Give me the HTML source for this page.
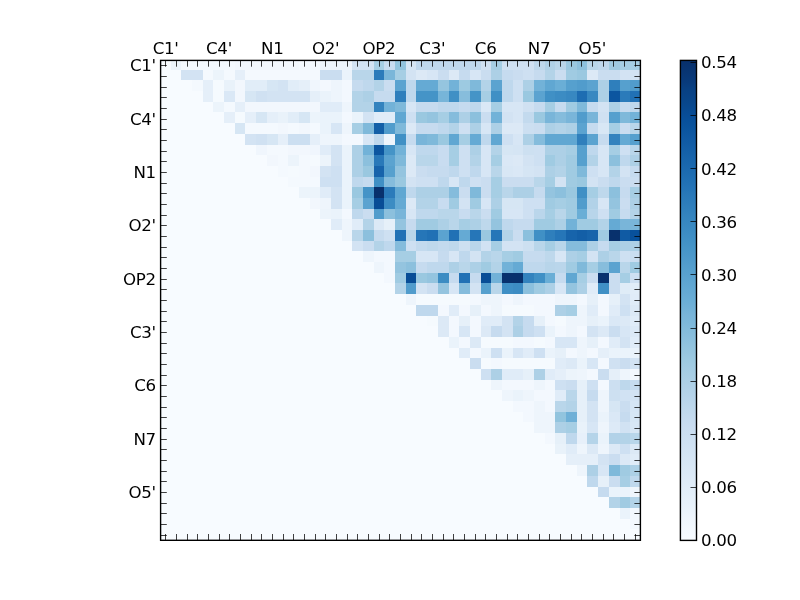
<!DOCTYPE html><html><head><meta charset="utf-8"><title>heatmap</title><style>html,body{margin:0;padding:0;background:#fff;width:800px;height:600px;overflow:hidden}svg{display:block}text{font-family:"DejaVu Sans","Liberation Sans",sans-serif;font-size:16.67px;fill:#000}</style></head><body>
<svg width="800" height="600" viewBox="0 0 800 600" style="will-change:transform">
<rect x="0" y="0" width="800" height="600" fill="#fff"/>
<rect x="160" y="60" width="480" height="480" fill="#f7fbff"/>
<g shape-rendering="crispEdges">
<rect x="171" y="60" width="10" height="10" fill="#ecf4fb"/>
<rect x="181" y="60" width="54" height="10" fill="#f4f9fe"/>
<rect x="235" y="60" width="64" height="10" fill="#f2f7fd"/>
<rect x="299" y="60" width="21" height="10" fill="#f4f9fe"/>
<rect x="320" y="60" width="32" height="10" fill="#eef5fc"/>
<rect x="352" y="60" width="22" height="10" fill="#d3e3f3"/>
<rect x="374" y="60" width="10" height="10" fill="#a6cee4"/>
<rect x="384" y="60" width="11" height="10" fill="#c8dcf0"/>
<rect x="395" y="60" width="11" height="10" fill="#92c4de"/>
<rect x="406" y="60" width="10" height="10" fill="#d6e6f4"/>
<rect x="416" y="60" width="65" height="10" fill="#bfd8ed"/>
<rect x="481" y="60" width="10" height="10" fill="#d0e1f2"/>
<rect x="491" y="60" width="11" height="10" fill="#a6cee4"/>
<rect x="502" y="60" width="32" height="10" fill="#d0e1f2"/>
<rect x="534" y="60" width="11" height="10" fill="#bed8ec"/>
<rect x="545" y="60" width="10" height="10" fill="#afd1e7"/>
<rect x="555" y="60" width="11" height="10" fill="#b9d6ea"/>
<rect x="566" y="60" width="11" height="10" fill="#9ac8e0"/>
<rect x="577" y="60" width="10" height="10" fill="#8cc0dd"/>
<rect x="587" y="60" width="11" height="10" fill="#b9d6ea"/>
<rect x="598" y="60" width="11" height="10" fill="#bfd8ed"/>
<rect x="609" y="60" width="11" height="10" fill="#a0cbe2"/>
<rect x="620" y="60" width="20" height="10" fill="#a6cee4"/>
<rect x="181" y="70" width="22" height="10" fill="#d3e3f3"/>
<rect x="203" y="70" width="10" height="10" fill="#f4f9fe"/>
<rect x="213" y="70" width="11" height="10" fill="#ecf4fb"/>
<rect x="224" y="70" width="11" height="10" fill="#f4f9fe"/>
<rect x="235" y="70" width="10" height="10" fill="#e5eff9"/>
<rect x="245" y="70" width="75" height="10" fill="#f4f9fe"/>
<rect x="320" y="70" width="22" height="10" fill="#caddf0"/>
<rect x="342" y="70" width="10" height="10" fill="#eaf3fb"/>
<rect x="352" y="70" width="22" height="10" fill="#b9d6ea"/>
<rect x="374" y="70" width="10" height="10" fill="#2b7bba"/>
<rect x="384" y="70" width="11" height="10" fill="#7ab6d9"/>
<rect x="395" y="70" width="11" height="10" fill="#a6cee4"/>
<rect x="406" y="70" width="10" height="10" fill="#d3e3f3"/>
<rect x="416" y="70" width="11" height="10" fill="#dce9f6"/>
<rect x="427" y="70" width="11" height="10" fill="#d7e6f5"/>
<rect x="438" y="70" width="11" height="10" fill="#caddf0"/>
<rect x="449" y="70" width="10" height="10" fill="#dce9f6"/>
<rect x="459" y="70" width="11" height="10" fill="#c6dbef"/>
<rect x="470" y="70" width="11" height="10" fill="#d7e6f5"/>
<rect x="481" y="70" width="10" height="10" fill="#caddf0"/>
<rect x="491" y="70" width="11" height="10" fill="#add0e6"/>
<rect x="502" y="70" width="11" height="10" fill="#c6dbef"/>
<rect x="513" y="70" width="10" height="10" fill="#caddf0"/>
<rect x="523" y="70" width="11" height="10" fill="#cee0f2"/>
<rect x="534" y="70" width="11" height="10" fill="#c6dbef"/>
<rect x="545" y="70" width="10" height="10" fill="#b3d3e8"/>
<rect x="555" y="70" width="11" height="10" fill="#caddf0"/>
<rect x="566" y="70" width="11" height="10" fill="#a0cbe2"/>
<rect x="577" y="70" width="10" height="10" fill="#9ac8e0"/>
<rect x="587" y="70" width="11" height="10" fill="#dce9f6"/>
<rect x="598" y="70" width="22" height="10" fill="#caddf0"/>
<rect x="620" y="70" width="20" height="10" fill="#d3e3f3"/>
<rect x="192" y="80" width="11" height="11" fill="#f4f9fe"/>
<rect x="203" y="80" width="10" height="11" fill="#e5eff9"/>
<rect x="213" y="80" width="11" height="11" fill="#f5fafe"/>
<rect x="224" y="80" width="11" height="11" fill="#e9f2fa"/>
<rect x="235" y="80" width="10" height="11" fill="#f2f7fd"/>
<rect x="245" y="80" width="22" height="11" fill="#e1edf8"/>
<rect x="267" y="80" width="11" height="11" fill="#d6e6f4"/>
<rect x="278" y="80" width="10" height="11" fill="#d3e3f3"/>
<rect x="288" y="80" width="11" height="11" fill="#e1edf8"/>
<rect x="299" y="80" width="11" height="11" fill="#e5eff9"/>
<rect x="310" y="80" width="10" height="11" fill="#f0f6fd"/>
<rect x="320" y="80" width="11" height="11" fill="#f3f8fe"/>
<rect x="331" y="80" width="11" height="11" fill="#eef5fc"/>
<rect x="342" y="80" width="10" height="11" fill="#f3f8fe"/>
<rect x="352" y="80" width="11" height="11" fill="#c6dbef"/>
<rect x="363" y="80" width="11" height="11" fill="#bfd8ed"/>
<rect x="374" y="80" width="10" height="11" fill="#b3d3e8"/>
<rect x="384" y="80" width="11" height="11" fill="#caddf0"/>
<rect x="395" y="80" width="11" height="11" fill="#5ba3d0"/>
<rect x="406" y="80" width="10" height="11" fill="#bfd8ed"/>
<rect x="416" y="80" width="22" height="11" fill="#65aad4"/>
<rect x="438" y="80" width="11" height="11" fill="#95c5df"/>
<rect x="449" y="80" width="10" height="11" fill="#72b2d8"/>
<rect x="459" y="80" width="11" height="11" fill="#9dcae1"/>
<rect x="470" y="80" width="11" height="11" fill="#7fb9da"/>
<rect x="481" y="80" width="10" height="11" fill="#b3d3e8"/>
<rect x="491" y="80" width="11" height="11" fill="#5ba3d0"/>
<rect x="502" y="80" width="11" height="11" fill="#bfd8ed"/>
<rect x="513" y="80" width="10" height="11" fill="#cee0f2"/>
<rect x="523" y="80" width="11" height="11" fill="#add0e6"/>
<rect x="534" y="80" width="11" height="11" fill="#72b2d8"/>
<rect x="545" y="80" width="10" height="11" fill="#60a7d2"/>
<rect x="555" y="80" width="11" height="11" fill="#6aaed6"/>
<rect x="566" y="80" width="11" height="11" fill="#56a0ce"/>
<rect x="577" y="80" width="10" height="11" fill="#519ccc"/>
<rect x="587" y="80" width="11" height="11" fill="#5ba3d0"/>
<rect x="598" y="80" width="11" height="11" fill="#add0e6"/>
<rect x="609" y="80" width="11" height="11" fill="#2f7fbc"/>
<rect x="620" y="80" width="10" height="11" fill="#56a0ce"/>
<rect x="630" y="80" width="10" height="11" fill="#519ccc"/>
<rect x="203" y="91" width="10" height="11" fill="#e5eff9"/>
<rect x="213" y="91" width="11" height="11" fill="#f5fafe"/>
<rect x="224" y="91" width="11" height="11" fill="#dae8f6"/>
<rect x="235" y="91" width="10" height="11" fill="#f2f7fd"/>
<rect x="245" y="91" width="11" height="11" fill="#d6e6f4"/>
<rect x="256" y="91" width="11" height="11" fill="#d0e1f2"/>
<rect x="267" y="91" width="43" height="11" fill="#d3e3f3"/>
<rect x="310" y="91" width="10" height="11" fill="#e5eff9"/>
<rect x="320" y="91" width="11" height="11" fill="#eaf3fb"/>
<rect x="331" y="91" width="11" height="11" fill="#eef5fc"/>
<rect x="342" y="91" width="10" height="11" fill="#f3f8fe"/>
<rect x="352" y="91" width="11" height="11" fill="#b3d3e8"/>
<rect x="363" y="91" width="11" height="11" fill="#add0e6"/>
<rect x="374" y="91" width="21" height="11" fill="#c6dbef"/>
<rect x="395" y="91" width="11" height="11" fill="#2f7fbc"/>
<rect x="406" y="91" width="10" height="11" fill="#bfd8ed"/>
<rect x="416" y="91" width="22" height="11" fill="#4594c7"/>
<rect x="438" y="91" width="11" height="11" fill="#77b5d9"/>
<rect x="449" y="91" width="10" height="11" fill="#4090c5"/>
<rect x="459" y="91" width="11" height="11" fill="#87bddc"/>
<rect x="470" y="91" width="11" height="11" fill="#4594c7"/>
<rect x="481" y="91" width="10" height="11" fill="#a6cee4"/>
<rect x="491" y="91" width="11" height="11" fill="#4090c5"/>
<rect x="502" y="91" width="11" height="11" fill="#bfd8ed"/>
<rect x="513" y="91" width="10" height="11" fill="#cee0f2"/>
<rect x="523" y="91" width="11" height="11" fill="#9ac8e0"/>
<rect x="534" y="91" width="11" height="11" fill="#5ba3d0"/>
<rect x="545" y="91" width="10" height="11" fill="#4090c5"/>
<rect x="555" y="91" width="11" height="11" fill="#3c8cc3"/>
<rect x="566" y="91" width="11" height="11" fill="#3888c1"/>
<rect x="577" y="91" width="10" height="11" fill="#1e6db2"/>
<rect x="587" y="91" width="11" height="11" fill="#3888c1"/>
<rect x="598" y="91" width="11" height="11" fill="#add0e6"/>
<rect x="609" y="91" width="11" height="11" fill="#0c56a0"/>
<rect x="620" y="91" width="10" height="11" fill="#2b7bba"/>
<rect x="630" y="91" width="10" height="11" fill="#2171b5"/>
<rect x="213" y="102" width="11" height="10" fill="#ecf4fb"/>
<rect x="224" y="102" width="11" height="10" fill="#f4f9fe"/>
<rect x="235" y="102" width="10" height="10" fill="#e5eff9"/>
<rect x="245" y="102" width="75" height="10" fill="#f2f7fd"/>
<rect x="320" y="102" width="22" height="10" fill="#e0ecf8"/>
<rect x="342" y="102" width="10" height="10" fill="#eef5fc"/>
<rect x="352" y="102" width="22" height="10" fill="#b3d3e8"/>
<rect x="374" y="102" width="10" height="10" fill="#3383be"/>
<rect x="384" y="102" width="11" height="10" fill="#72b2d8"/>
<rect x="395" y="102" width="11" height="10" fill="#7fb9da"/>
<rect x="406" y="102" width="10" height="10" fill="#d7e6f5"/>
<rect x="416" y="102" width="22" height="10" fill="#c6dbef"/>
<rect x="438" y="102" width="21" height="10" fill="#bfd8ed"/>
<rect x="459" y="102" width="11" height="10" fill="#c6dbef"/>
<rect x="470" y="102" width="11" height="10" fill="#bfd8ed"/>
<rect x="481" y="102" width="10" height="10" fill="#dae8f6"/>
<rect x="491" y="102" width="11" height="10" fill="#a6cee4"/>
<rect x="502" y="102" width="21" height="10" fill="#d7e6f5"/>
<rect x="523" y="102" width="11" height="10" fill="#d0e1f2"/>
<rect x="534" y="102" width="11" height="10" fill="#c6dbef"/>
<rect x="545" y="102" width="10" height="10" fill="#a6cee4"/>
<rect x="555" y="102" width="11" height="10" fill="#c6dbef"/>
<rect x="566" y="102" width="11" height="10" fill="#a0cbe2"/>
<rect x="577" y="102" width="10" height="10" fill="#7fb9da"/>
<rect x="587" y="102" width="11" height="10" fill="#c6dbef"/>
<rect x="598" y="102" width="11" height="10" fill="#d3e3f3"/>
<rect x="609" y="102" width="11" height="10" fill="#add0e6"/>
<rect x="620" y="102" width="10" height="10" fill="#c6dbef"/>
<rect x="630" y="102" width="10" height="10" fill="#bfd8ed"/>
<rect x="224" y="112" width="11" height="11" fill="#e5eff9"/>
<rect x="235" y="112" width="10" height="11" fill="#f5fafe"/>
<rect x="245" y="112" width="11" height="11" fill="#e5eff9"/>
<rect x="256" y="112" width="11" height="11" fill="#d6e6f4"/>
<rect x="267" y="112" width="11" height="11" fill="#e5eff9"/>
<rect x="278" y="112" width="10" height="11" fill="#e9f2fa"/>
<rect x="288" y="112" width="11" height="11" fill="#e1edf8"/>
<rect x="299" y="112" width="11" height="11" fill="#d6e6f4"/>
<rect x="310" y="112" width="10" height="11" fill="#ecf4fb"/>
<rect x="320" y="112" width="22" height="11" fill="#eaf3fb"/>
<rect x="342" y="112" width="10" height="11" fill="#f3f8fe"/>
<rect x="352" y="112" width="11" height="11" fill="#eaf3fb"/>
<rect x="363" y="112" width="11" height="11" fill="#d3e3f3"/>
<rect x="374" y="112" width="21" height="11" fill="#e0ecf8"/>
<rect x="395" y="112" width="11" height="11" fill="#60a7d2"/>
<rect x="406" y="112" width="10" height="11" fill="#cee0f2"/>
<rect x="416" y="112" width="11" height="11" fill="#9ac8e0"/>
<rect x="427" y="112" width="11" height="11" fill="#94c4df"/>
<rect x="438" y="112" width="11" height="11" fill="#a6cee4"/>
<rect x="449" y="112" width="10" height="11" fill="#85bcdc"/>
<rect x="459" y="112" width="11" height="11" fill="#add0e6"/>
<rect x="470" y="112" width="11" height="11" fill="#8cc0dd"/>
<rect x="481" y="112" width="10" height="11" fill="#caddf0"/>
<rect x="491" y="112" width="11" height="11" fill="#72b2d8"/>
<rect x="502" y="112" width="11" height="11" fill="#d3e3f3"/>
<rect x="513" y="112" width="10" height="11" fill="#d7e6f5"/>
<rect x="523" y="112" width="11" height="11" fill="#c3daee"/>
<rect x="534" y="112" width="11" height="11" fill="#9ac8e0"/>
<rect x="545" y="112" width="10" height="11" fill="#79b5d9"/>
<rect x="555" y="112" width="11" height="11" fill="#85bcdc"/>
<rect x="566" y="112" width="11" height="11" fill="#79b5d9"/>
<rect x="577" y="112" width="10" height="11" fill="#519ccc"/>
<rect x="587" y="112" width="11" height="11" fill="#79b5d9"/>
<rect x="598" y="112" width="11" height="11" fill="#d0e1f2"/>
<rect x="609" y="112" width="11" height="11" fill="#56a0ce"/>
<rect x="620" y="112" width="10" height="11" fill="#7fb9da"/>
<rect x="630" y="112" width="10" height="11" fill="#72b2d8"/>
<rect x="235" y="123" width="10" height="11" fill="#d6e6f4"/>
<rect x="245" y="123" width="33" height="11" fill="#f4f9fe"/>
<rect x="278" y="123" width="10" height="11" fill="#f2f7fd"/>
<rect x="288" y="123" width="11" height="11" fill="#f4f9fe"/>
<rect x="299" y="123" width="11" height="11" fill="#f2f7fd"/>
<rect x="310" y="123" width="10" height="11" fill="#f4f9fe"/>
<rect x="320" y="123" width="11" height="11" fill="#eaf3fb"/>
<rect x="331" y="123" width="11" height="11" fill="#d7e6f5"/>
<rect x="342" y="123" width="10" height="11" fill="#eef5fc"/>
<rect x="352" y="123" width="11" height="11" fill="#a6cee4"/>
<rect x="363" y="123" width="11" height="11" fill="#7fb9da"/>
<rect x="374" y="123" width="10" height="11" fill="#135fa7"/>
<rect x="384" y="123" width="11" height="11" fill="#519ccc"/>
<rect x="395" y="123" width="11" height="11" fill="#7fb9da"/>
<rect x="406" y="123" width="10" height="11" fill="#dce9f6"/>
<rect x="416" y="123" width="22" height="11" fill="#c6dbef"/>
<rect x="438" y="123" width="11" height="11" fill="#bfd8ed"/>
<rect x="449" y="123" width="10" height="11" fill="#b3d3e8"/>
<rect x="459" y="123" width="11" height="11" fill="#cee0f2"/>
<rect x="470" y="123" width="11" height="11" fill="#add0e6"/>
<rect x="481" y="123" width="10" height="11" fill="#d7e6f5"/>
<rect x="491" y="123" width="11" height="11" fill="#add0e6"/>
<rect x="502" y="123" width="21" height="11" fill="#dce9f6"/>
<rect x="523" y="123" width="11" height="11" fill="#ccdff1"/>
<rect x="534" y="123" width="11" height="11" fill="#caddf0"/>
<rect x="545" y="123" width="10" height="11" fill="#add0e6"/>
<rect x="555" y="123" width="11" height="11" fill="#b3d3e8"/>
<rect x="566" y="123" width="11" height="11" fill="#add0e6"/>
<rect x="577" y="123" width="10" height="11" fill="#5ba3d0"/>
<rect x="587" y="123" width="11" height="11" fill="#c6dbef"/>
<rect x="598" y="123" width="11" height="11" fill="#d8e7f5"/>
<rect x="609" y="123" width="11" height="11" fill="#a6cee4"/>
<rect x="620" y="123" width="10" height="11" fill="#caddf0"/>
<rect x="630" y="123" width="10" height="11" fill="#b9d6ea"/>
<rect x="245" y="134" width="11" height="11" fill="#d3e3f3"/>
<rect x="256" y="134" width="11" height="11" fill="#d0e1f2"/>
<rect x="267" y="134" width="11" height="11" fill="#d6e6f4"/>
<rect x="278" y="134" width="10" height="11" fill="#e5eff9"/>
<rect x="288" y="134" width="22" height="11" fill="#ccdff1"/>
<rect x="310" y="134" width="10" height="11" fill="#e5eff9"/>
<rect x="320" y="134" width="22" height="11" fill="#eef5fc"/>
<rect x="342" y="134" width="21" height="11" fill="#f3f8fe"/>
<rect x="363" y="134" width="11" height="11" fill="#d7e6f5"/>
<rect x="374" y="134" width="10" height="11" fill="#bfd8ed"/>
<rect x="384" y="134" width="11" height="11" fill="#eef5fc"/>
<rect x="395" y="134" width="11" height="11" fill="#4090c5"/>
<rect x="406" y="134" width="10" height="11" fill="#c6dbef"/>
<rect x="416" y="134" width="11" height="11" fill="#79b5d9"/>
<rect x="427" y="134" width="11" height="11" fill="#7fb9da"/>
<rect x="438" y="134" width="11" height="11" fill="#9ac8e0"/>
<rect x="449" y="134" width="10" height="11" fill="#60a7d2"/>
<rect x="459" y="134" width="11" height="11" fill="#a6cee4"/>
<rect x="470" y="134" width="11" height="11" fill="#65aad4"/>
<rect x="481" y="134" width="10" height="11" fill="#bfd8ed"/>
<rect x="491" y="134" width="11" height="11" fill="#60a7d2"/>
<rect x="502" y="134" width="11" height="11" fill="#cee0f2"/>
<rect x="513" y="134" width="10" height="11" fill="#d7e6f5"/>
<rect x="523" y="134" width="11" height="11" fill="#add0e6"/>
<rect x="534" y="134" width="11" height="11" fill="#85bcdc"/>
<rect x="545" y="134" width="32" height="11" fill="#60a7d2"/>
<rect x="577" y="134" width="10" height="11" fill="#2f7fbc"/>
<rect x="587" y="134" width="11" height="11" fill="#5ba3d0"/>
<rect x="598" y="134" width="11" height="11" fill="#c6dbef"/>
<rect x="609" y="134" width="11" height="11" fill="#3383be"/>
<rect x="620" y="134" width="10" height="11" fill="#65aad4"/>
<rect x="630" y="134" width="10" height="11" fill="#56a0ce"/>
<rect x="256" y="145" width="11" height="10" fill="#f0f6fd"/>
<rect x="267" y="145" width="21" height="10" fill="#f4f9fe"/>
<rect x="288" y="145" width="22" height="10" fill="#f2f7fd"/>
<rect x="310" y="145" width="10" height="10" fill="#f0f6fd"/>
<rect x="320" y="145" width="11" height="10" fill="#e0ecf8"/>
<rect x="331" y="145" width="11" height="10" fill="#d3e3f3"/>
<rect x="342" y="145" width="10" height="10" fill="#eaf3fb"/>
<rect x="352" y="145" width="11" height="10" fill="#add0e6"/>
<rect x="363" y="145" width="11" height="10" fill="#72b2d8"/>
<rect x="374" y="145" width="10" height="10" fill="#0c56a0"/>
<rect x="384" y="145" width="11" height="10" fill="#4594c7"/>
<rect x="395" y="145" width="11" height="10" fill="#72b2d8"/>
<rect x="406" y="145" width="10" height="10" fill="#d7e6f5"/>
<rect x="416" y="145" width="22" height="10" fill="#bfd8ed"/>
<rect x="438" y="145" width="11" height="10" fill="#c8dcf0"/>
<rect x="449" y="145" width="10" height="10" fill="#a6cee4"/>
<rect x="459" y="145" width="11" height="10" fill="#cee0f2"/>
<rect x="470" y="145" width="11" height="10" fill="#add0e6"/>
<rect x="481" y="145" width="10" height="10" fill="#d7e6f5"/>
<rect x="491" y="145" width="11" height="10" fill="#b3d3e8"/>
<rect x="502" y="145" width="11" height="10" fill="#d6e6f4"/>
<rect x="513" y="145" width="10" height="10" fill="#d5e5f4"/>
<rect x="523" y="145" width="11" height="10" fill="#cde0f1"/>
<rect x="534" y="145" width="11" height="10" fill="#cee0f2"/>
<rect x="545" y="145" width="21" height="10" fill="#add0e6"/>
<rect x="566" y="145" width="11" height="10" fill="#a6cee4"/>
<rect x="577" y="145" width="10" height="10" fill="#56a0ce"/>
<rect x="587" y="145" width="11" height="10" fill="#bfd8ed"/>
<rect x="598" y="145" width="11" height="10" fill="#d7e6f5"/>
<rect x="609" y="145" width="11" height="10" fill="#a6cee4"/>
<rect x="620" y="145" width="10" height="10" fill="#cee0f2"/>
<rect x="630" y="145" width="10" height="10" fill="#b9d6ea"/>
<rect x="267" y="155" width="11" height="11" fill="#f2f7fd"/>
<rect x="278" y="155" width="10" height="11" fill="#f4f9fe"/>
<rect x="288" y="155" width="11" height="11" fill="#ecf4fb"/>
<rect x="299" y="155" width="11" height="11" fill="#f4f9fe"/>
<rect x="310" y="155" width="10" height="11" fill="#f5fafe"/>
<rect x="320" y="155" width="11" height="11" fill="#ecf4fb"/>
<rect x="331" y="155" width="11" height="11" fill="#d3e3f3"/>
<rect x="342" y="155" width="10" height="11" fill="#eaf3fb"/>
<rect x="352" y="155" width="11" height="11" fill="#add0e6"/>
<rect x="363" y="155" width="11" height="11" fill="#8cc0dd"/>
<rect x="374" y="155" width="10" height="11" fill="#2979b9"/>
<rect x="384" y="155" width="11" height="11" fill="#5ba3d0"/>
<rect x="395" y="155" width="11" height="11" fill="#7fb9da"/>
<rect x="406" y="155" width="10" height="11" fill="#dce9f6"/>
<rect x="416" y="155" width="22" height="11" fill="#b9d6ea"/>
<rect x="438" y="155" width="11" height="11" fill="#c8dcf0"/>
<rect x="449" y="155" width="10" height="11" fill="#a6cee4"/>
<rect x="459" y="155" width="11" height="11" fill="#cee0f2"/>
<rect x="470" y="155" width="11" height="11" fill="#b3d3e8"/>
<rect x="481" y="155" width="10" height="11" fill="#d7e6f5"/>
<rect x="491" y="155" width="11" height="11" fill="#a6cee4"/>
<rect x="502" y="155" width="11" height="11" fill="#dae8f6"/>
<rect x="513" y="155" width="10" height="11" fill="#dce9f6"/>
<rect x="523" y="155" width="11" height="11" fill="#d3e3f3"/>
<rect x="534" y="155" width="11" height="11" fill="#cee0f2"/>
<rect x="545" y="155" width="10" height="11" fill="#a0cbe2"/>
<rect x="555" y="155" width="11" height="11" fill="#add0e6"/>
<rect x="566" y="155" width="11" height="11" fill="#a0cbe2"/>
<rect x="577" y="155" width="10" height="11" fill="#56a0ce"/>
<rect x="587" y="155" width="11" height="11" fill="#b3d3e8"/>
<rect x="598" y="155" width="11" height="11" fill="#d7e6f5"/>
<rect x="609" y="155" width="11" height="11" fill="#8cc0dd"/>
<rect x="620" y="155" width="10" height="11" fill="#bfd8ed"/>
<rect x="630" y="155" width="10" height="11" fill="#add0e6"/>
<rect x="278" y="166" width="10" height="11" fill="#f4f9fe"/>
<rect x="288" y="166" width="11" height="11" fill="#f5fafe"/>
<rect x="299" y="166" width="11" height="11" fill="#f4f9fe"/>
<rect x="310" y="166" width="10" height="11" fill="#f2f7fd"/>
<rect x="320" y="166" width="11" height="11" fill="#d3e3f3"/>
<rect x="331" y="166" width="11" height="11" fill="#cee0f2"/>
<rect x="342" y="166" width="10" height="11" fill="#eaf3fb"/>
<rect x="352" y="166" width="11" height="11" fill="#add0e6"/>
<rect x="363" y="166" width="11" height="11" fill="#9ac8e0"/>
<rect x="374" y="166" width="10" height="11" fill="#1764ab"/>
<rect x="384" y="166" width="11" height="11" fill="#56a0ce"/>
<rect x="395" y="166" width="11" height="11" fill="#94c4df"/>
<rect x="406" y="166" width="10" height="11" fill="#dce9f6"/>
<rect x="416" y="166" width="11" height="11" fill="#caddf0"/>
<rect x="427" y="166" width="22" height="11" fill="#c6dbef"/>
<rect x="449" y="166" width="10" height="11" fill="#bfd8ed"/>
<rect x="459" y="166" width="11" height="11" fill="#cee0f2"/>
<rect x="470" y="166" width="11" height="11" fill="#bfd8ed"/>
<rect x="481" y="166" width="10" height="11" fill="#d7e6f5"/>
<rect x="491" y="166" width="11" height="11" fill="#b9d6ea"/>
<rect x="502" y="166" width="11" height="11" fill="#d8e7f5"/>
<rect x="513" y="166" width="10" height="11" fill="#dae8f6"/>
<rect x="523" y="166" width="11" height="11" fill="#d5e5f4"/>
<rect x="534" y="166" width="11" height="11" fill="#d3e3f3"/>
<rect x="545" y="166" width="10" height="11" fill="#add0e6"/>
<rect x="555" y="166" width="11" height="11" fill="#b3d3e8"/>
<rect x="566" y="166" width="11" height="11" fill="#a0cbe2"/>
<rect x="577" y="166" width="10" height="11" fill="#7fb9da"/>
<rect x="587" y="166" width="11" height="11" fill="#cee0f2"/>
<rect x="598" y="166" width="11" height="11" fill="#d7e6f5"/>
<rect x="609" y="166" width="11" height="11" fill="#b3d3e8"/>
<rect x="620" y="166" width="10" height="11" fill="#d3e3f3"/>
<rect x="630" y="166" width="10" height="11" fill="#c6dbef"/>
<rect x="288" y="177" width="32" height="10" fill="#f4f9fe"/>
<rect x="320" y="177" width="22" height="10" fill="#cee0f2"/>
<rect x="342" y="177" width="10" height="10" fill="#eaf3fb"/>
<rect x="352" y="177" width="11" height="10" fill="#bfd8ed"/>
<rect x="363" y="177" width="11" height="10" fill="#c6dbef"/>
<rect x="374" y="177" width="10" height="10" fill="#4090c5"/>
<rect x="384" y="177" width="11" height="10" fill="#85bcdc"/>
<rect x="395" y="177" width="11" height="10" fill="#9ac8e0"/>
<rect x="406" y="177" width="10" height="10" fill="#d3e3f3"/>
<rect x="416" y="177" width="22" height="10" fill="#cee0f2"/>
<rect x="438" y="177" width="11" height="10" fill="#bfd8ed"/>
<rect x="449" y="177" width="10" height="10" fill="#d7e6f5"/>
<rect x="459" y="177" width="11" height="10" fill="#bfd8ed"/>
<rect x="470" y="177" width="11" height="10" fill="#cee0f2"/>
<rect x="481" y="177" width="10" height="10" fill="#caddf0"/>
<rect x="491" y="177" width="11" height="10" fill="#a6cee4"/>
<rect x="502" y="177" width="32" height="10" fill="#caddf0"/>
<rect x="534" y="177" width="11" height="10" fill="#b9d6ea"/>
<rect x="545" y="177" width="10" height="10" fill="#a6cee4"/>
<rect x="555" y="177" width="11" height="10" fill="#d3e3f3"/>
<rect x="566" y="177" width="11" height="10" fill="#a0cbe2"/>
<rect x="577" y="177" width="10" height="10" fill="#9ac8e0"/>
<rect x="587" y="177" width="11" height="10" fill="#d3e3f3"/>
<rect x="598" y="177" width="11" height="10" fill="#caddf0"/>
<rect x="609" y="177" width="11" height="10" fill="#bfd8ed"/>
<rect x="620" y="177" width="20" height="10" fill="#caddf0"/>
<rect x="299" y="187" width="21" height="11" fill="#ecf4fb"/>
<rect x="320" y="187" width="11" height="11" fill="#e0ecf8"/>
<rect x="331" y="187" width="11" height="11" fill="#d3e3f3"/>
<rect x="342" y="187" width="10" height="11" fill="#eaf3fb"/>
<rect x="352" y="187" width="11" height="11" fill="#9ac8e0"/>
<rect x="363" y="187" width="11" height="11" fill="#4594c7"/>
<rect x="374" y="187" width="10" height="11" fill="#08316d"/>
<rect x="384" y="187" width="11" height="11" fill="#2b7bba"/>
<rect x="395" y="187" width="11" height="11" fill="#60a7d2"/>
<rect x="406" y="187" width="10" height="11" fill="#bfd8ed"/>
<rect x="416" y="187" width="33" height="11" fill="#add0e6"/>
<rect x="449" y="187" width="10" height="11" fill="#85bcdc"/>
<rect x="459" y="187" width="11" height="11" fill="#caddf0"/>
<rect x="470" y="187" width="11" height="11" fill="#7fb9da"/>
<rect x="481" y="187" width="10" height="11" fill="#caddf0"/>
<rect x="491" y="187" width="11" height="11" fill="#a6cee4"/>
<rect x="502" y="187" width="11" height="11" fill="#b9d6ea"/>
<rect x="513" y="187" width="21" height="11" fill="#add0e6"/>
<rect x="534" y="187" width="11" height="11" fill="#c6dbef"/>
<rect x="545" y="187" width="10" height="11" fill="#94c4df"/>
<rect x="555" y="187" width="11" height="11" fill="#8cc0dd"/>
<rect x="566" y="187" width="11" height="11" fill="#9ac8e0"/>
<rect x="577" y="187" width="10" height="11" fill="#4090c5"/>
<rect x="587" y="187" width="11" height="11" fill="#a6cee4"/>
<rect x="598" y="187" width="11" height="11" fill="#bed8ec"/>
<rect x="609" y="187" width="11" height="11" fill="#8cc0dd"/>
<rect x="620" y="187" width="10" height="11" fill="#c6dbef"/>
<rect x="630" y="187" width="10" height="11" fill="#a6cee4"/>
<rect x="310" y="198" width="10" height="11" fill="#f2f7fd"/>
<rect x="320" y="198" width="11" height="11" fill="#eef5fc"/>
<rect x="331" y="198" width="11" height="11" fill="#d3e3f3"/>
<rect x="342" y="198" width="10" height="11" fill="#eaf3fb"/>
<rect x="352" y="198" width="11" height="11" fill="#a6cee4"/>
<rect x="363" y="198" width="11" height="11" fill="#5ba3d0"/>
<rect x="374" y="198" width="10" height="11" fill="#084d96"/>
<rect x="384" y="198" width="11" height="11" fill="#3c8cc3"/>
<rect x="395" y="198" width="11" height="11" fill="#65aad4"/>
<rect x="406" y="198" width="10" height="11" fill="#dce9f6"/>
<rect x="416" y="198" width="22" height="11" fill="#b3d3e8"/>
<rect x="438" y="198" width="11" height="11" fill="#c8dcf0"/>
<rect x="449" y="198" width="10" height="11" fill="#a0cbe2"/>
<rect x="459" y="198" width="11" height="11" fill="#d3e3f3"/>
<rect x="470" y="198" width="11" height="11" fill="#a0cbe2"/>
<rect x="481" y="198" width="10" height="11" fill="#d7e6f5"/>
<rect x="491" y="198" width="11" height="11" fill="#add0e6"/>
<rect x="502" y="198" width="21" height="11" fill="#d6e6f4"/>
<rect x="523" y="198" width="22" height="11" fill="#cee0f2"/>
<rect x="545" y="198" width="10" height="11" fill="#a0cbe2"/>
<rect x="555" y="198" width="11" height="11" fill="#a6cee4"/>
<rect x="566" y="198" width="11" height="11" fill="#a0cbe2"/>
<rect x="577" y="198" width="10" height="11" fill="#519ccc"/>
<rect x="587" y="198" width="11" height="11" fill="#b2d2e8"/>
<rect x="598" y="198" width="11" height="11" fill="#d7e6f5"/>
<rect x="609" y="198" width="11" height="11" fill="#94c4df"/>
<rect x="620" y="198" width="10" height="11" fill="#caddf0"/>
<rect x="630" y="198" width="10" height="11" fill="#add0e6"/>
<rect x="320" y="209" width="11" height="10" fill="#ecf4fb"/>
<rect x="331" y="209" width="11" height="10" fill="#eaf3fb"/>
<rect x="342" y="209" width="10" height="10" fill="#f3f8fe"/>
<rect x="352" y="209" width="11" height="10" fill="#bfd8ed"/>
<rect x="363" y="209" width="11" height="10" fill="#caddf0"/>
<rect x="374" y="209" width="10" height="10" fill="#519ccc"/>
<rect x="384" y="209" width="11" height="10" fill="#8cc0dd"/>
<rect x="395" y="209" width="11" height="10" fill="#79b5d9"/>
<rect x="406" y="209" width="10" height="10" fill="#d7e6f5"/>
<rect x="416" y="209" width="22" height="10" fill="#bfd8ed"/>
<rect x="438" y="209" width="21" height="10" fill="#b9d6ea"/>
<rect x="459" y="209" width="11" height="10" fill="#c8dcf0"/>
<rect x="470" y="209" width="11" height="10" fill="#b9d6ea"/>
<rect x="481" y="209" width="10" height="10" fill="#caddf0"/>
<rect x="491" y="209" width="11" height="10" fill="#a0cbe2"/>
<rect x="502" y="209" width="21" height="10" fill="#d7e6f5"/>
<rect x="523" y="209" width="11" height="10" fill="#cee0f2"/>
<rect x="534" y="209" width="11" height="10" fill="#bad6eb"/>
<rect x="545" y="209" width="10" height="10" fill="#a6cee4"/>
<rect x="555" y="209" width="11" height="10" fill="#b9d6ea"/>
<rect x="566" y="209" width="11" height="10" fill="#a0cbe2"/>
<rect x="577" y="209" width="10" height="10" fill="#6aaed6"/>
<rect x="587" y="209" width="11" height="10" fill="#b8d5ea"/>
<rect x="598" y="209" width="11" height="10" fill="#cee0f2"/>
<rect x="609" y="209" width="11" height="10" fill="#a0cbe2"/>
<rect x="620" y="209" width="10" height="10" fill="#c6dbef"/>
<rect x="630" y="209" width="10" height="10" fill="#b3d3e8"/>
<rect x="331" y="219" width="11" height="11" fill="#e0ecf8"/>
<rect x="342" y="219" width="10" height="11" fill="#eef5fc"/>
<rect x="352" y="219" width="11" height="11" fill="#e0ecf8"/>
<rect x="363" y="219" width="11" height="11" fill="#b3d3e8"/>
<rect x="374" y="219" width="10" height="11" fill="#dce9f6"/>
<rect x="384" y="219" width="11" height="11" fill="#e6f0f9"/>
<rect x="395" y="219" width="11" height="11" fill="#94c4df"/>
<rect x="406" y="219" width="10" height="11" fill="#c6dbef"/>
<rect x="416" y="219" width="22" height="11" fill="#a0cbe2"/>
<rect x="438" y="219" width="11" height="11" fill="#add0e6"/>
<rect x="449" y="219" width="10" height="11" fill="#b9d6ea"/>
<rect x="459" y="219" width="11" height="11" fill="#a6cee4"/>
<rect x="470" y="219" width="11" height="11" fill="#add0e6"/>
<rect x="481" y="219" width="10" height="11" fill="#bed8ec"/>
<rect x="491" y="219" width="11" height="11" fill="#94c4df"/>
<rect x="502" y="219" width="11" height="11" fill="#bfd8ed"/>
<rect x="513" y="219" width="21" height="11" fill="#c6dbef"/>
<rect x="534" y="219" width="21" height="11" fill="#a0cbe2"/>
<rect x="555" y="219" width="11" height="11" fill="#add0e6"/>
<rect x="566" y="219" width="11" height="11" fill="#72b2d8"/>
<rect x="577" y="219" width="21" height="11" fill="#a0cbe2"/>
<rect x="598" y="219" width="11" height="11" fill="#b3d3e8"/>
<rect x="609" y="219" width="11" height="11" fill="#65aad4"/>
<rect x="620" y="219" width="20" height="11" fill="#79b5d9"/>
<rect x="342" y="230" width="10" height="11" fill="#eef5fc"/>
<rect x="352" y="230" width="11" height="11" fill="#b9d6ea"/>
<rect x="363" y="230" width="11" height="11" fill="#8cc0dd"/>
<rect x="374" y="230" width="10" height="11" fill="#c6dbef"/>
<rect x="384" y="230" width="11" height="11" fill="#cee0f2"/>
<rect x="395" y="230" width="11" height="11" fill="#2171b5"/>
<rect x="406" y="230" width="10" height="11" fill="#b9d6ea"/>
<rect x="416" y="230" width="11" height="11" fill="#2676b8"/>
<rect x="427" y="230" width="11" height="11" fill="#2171b5"/>
<rect x="438" y="230" width="11" height="11" fill="#5ba3d0"/>
<rect x="449" y="230" width="10" height="11" fill="#2171b5"/>
<rect x="459" y="230" width="11" height="11" fill="#65aad4"/>
<rect x="470" y="230" width="11" height="11" fill="#2676b8"/>
<rect x="481" y="230" width="10" height="11" fill="#9ac8e0"/>
<rect x="491" y="230" width="11" height="11" fill="#2676b8"/>
<rect x="502" y="230" width="11" height="11" fill="#b3d3e8"/>
<rect x="513" y="230" width="10" height="11" fill="#caddf0"/>
<rect x="523" y="230" width="11" height="11" fill="#8cc0dd"/>
<rect x="534" y="230" width="11" height="11" fill="#4090c5"/>
<rect x="545" y="230" width="10" height="11" fill="#2f7fbc"/>
<rect x="555" y="230" width="11" height="11" fill="#2676b8"/>
<rect x="566" y="230" width="11" height="11" fill="#1764ab"/>
<rect x="577" y="230" width="10" height="11" fill="#135fa7"/>
<rect x="587" y="230" width="11" height="11" fill="#1764ab"/>
<rect x="598" y="230" width="11" height="11" fill="#a0cbe2"/>
<rect x="609" y="230" width="11" height="11" fill="#08316d"/>
<rect x="620" y="230" width="10" height="11" fill="#105ba4"/>
<rect x="630" y="230" width="10" height="11" fill="#08519c"/>
<rect x="352" y="241" width="11" height="10" fill="#d3e3f3"/>
<rect x="363" y="241" width="11" height="10" fill="#caddf0"/>
<rect x="374" y="241" width="10" height="10" fill="#b3d3e8"/>
<rect x="384" y="241" width="11" height="10" fill="#bfd8ed"/>
<rect x="395" y="241" width="11" height="10" fill="#85bcdc"/>
<rect x="406" y="241" width="10" height="10" fill="#cee0f2"/>
<rect x="416" y="241" width="11" height="10" fill="#c3daee"/>
<rect x="427" y="241" width="11" height="10" fill="#bed8ec"/>
<rect x="438" y="241" width="11" height="10" fill="#c3daee"/>
<rect x="449" y="241" width="10" height="10" fill="#bed8ec"/>
<rect x="459" y="241" width="11" height="10" fill="#cde0f1"/>
<rect x="470" y="241" width="11" height="10" fill="#bad6eb"/>
<rect x="481" y="241" width="10" height="10" fill="#d1e2f3"/>
<rect x="491" y="241" width="11" height="10" fill="#a6cee4"/>
<rect x="502" y="241" width="21" height="10" fill="#d3e3f3"/>
<rect x="523" y="241" width="11" height="10" fill="#cde0f1"/>
<rect x="534" y="241" width="11" height="10" fill="#b9d6ea"/>
<rect x="545" y="241" width="10" height="10" fill="#a6cee4"/>
<rect x="555" y="241" width="11" height="10" fill="#b9d6ea"/>
<rect x="566" y="241" width="21" height="10" fill="#85bcdc"/>
<rect x="587" y="241" width="11" height="10" fill="#add0e6"/>
<rect x="598" y="241" width="11" height="10" fill="#c6dbef"/>
<rect x="609" y="241" width="11" height="10" fill="#a6cee4"/>
<rect x="620" y="241" width="20" height="10" fill="#add0e6"/>
<rect x="363" y="251" width="11" height="11" fill="#eef5fc"/>
<rect x="374" y="251" width="21" height="11" fill="#f3f8fe"/>
<rect x="395" y="251" width="21" height="11" fill="#a6cee4"/>
<rect x="416" y="251" width="22" height="11" fill="#d7e6f5"/>
<rect x="438" y="251" width="11" height="11" fill="#c6dbef"/>
<rect x="449" y="251" width="10" height="11" fill="#d7e6f5"/>
<rect x="459" y="251" width="11" height="11" fill="#bfd8ed"/>
<rect x="470" y="251" width="11" height="11" fill="#d3e3f3"/>
<rect x="481" y="251" width="10" height="11" fill="#b3d3e8"/>
<rect x="491" y="251" width="11" height="11" fill="#b9d6ea"/>
<rect x="502" y="251" width="11" height="11" fill="#a6cee4"/>
<rect x="513" y="251" width="10" height="11" fill="#a0cbe2"/>
<rect x="523" y="251" width="22" height="11" fill="#c6dbef"/>
<rect x="545" y="251" width="10" height="11" fill="#bed8ec"/>
<rect x="555" y="251" width="11" height="11" fill="#d7e6f5"/>
<rect x="566" y="251" width="11" height="11" fill="#add0e6"/>
<rect x="577" y="251" width="10" height="11" fill="#a6cee4"/>
<rect x="587" y="251" width="11" height="11" fill="#d3e3f3"/>
<rect x="598" y="251" width="11" height="11" fill="#add0e6"/>
<rect x="609" y="251" width="11" height="11" fill="#b9d6ea"/>
<rect x="620" y="251" width="10" height="11" fill="#cee0f2"/>
<rect x="630" y="251" width="10" height="11" fill="#caddf0"/>
<rect x="374" y="262" width="10" height="11" fill="#eef5fc"/>
<rect x="384" y="262" width="11" height="11" fill="#f3f8fe"/>
<rect x="395" y="262" width="11" height="11" fill="#94c4df"/>
<rect x="406" y="262" width="10" height="11" fill="#8cc0dd"/>
<rect x="416" y="262" width="11" height="11" fill="#c6dbef"/>
<rect x="427" y="262" width="22" height="11" fill="#bfd8ed"/>
<rect x="449" y="262" width="10" height="11" fill="#add0e6"/>
<rect x="459" y="262" width="11" height="11" fill="#b9d6ea"/>
<rect x="470" y="262" width="11" height="11" fill="#add0e6"/>
<rect x="481" y="262" width="10" height="11" fill="#a0cbe2"/>
<rect x="491" y="262" width="11" height="11" fill="#b3d3e8"/>
<rect x="502" y="262" width="11" height="11" fill="#72b2d8"/>
<rect x="513" y="262" width="10" height="11" fill="#65aad4"/>
<rect x="523" y="262" width="22" height="11" fill="#bfd8ed"/>
<rect x="545" y="262" width="10" height="11" fill="#b8d5ea"/>
<rect x="555" y="262" width="11" height="11" fill="#bad6eb"/>
<rect x="566" y="262" width="11" height="11" fill="#a0cbe2"/>
<rect x="577" y="262" width="10" height="11" fill="#7fb9da"/>
<rect x="587" y="262" width="11" height="11" fill="#a6cee4"/>
<rect x="598" y="262" width="11" height="11" fill="#87bddc"/>
<rect x="609" y="262" width="11" height="11" fill="#5ba3d0"/>
<rect x="620" y="262" width="10" height="11" fill="#b9d6ea"/>
<rect x="630" y="262" width="10" height="11" fill="#a0cbe2"/>
<rect x="384" y="273" width="11" height="10" fill="#f3f8fe"/>
<rect x="395" y="273" width="11" height="10" fill="#a0cbe2"/>
<rect x="406" y="273" width="10" height="10" fill="#084d96"/>
<rect x="416" y="273" width="11" height="10" fill="#9ac8e0"/>
<rect x="427" y="273" width="11" height="10" fill="#94c4df"/>
<rect x="438" y="273" width="11" height="10" fill="#3c8cc3"/>
<rect x="449" y="273" width="10" height="10" fill="#c6dbef"/>
<rect x="459" y="273" width="11" height="10" fill="#2171b5"/>
<rect x="470" y="273" width="11" height="10" fill="#c6dbef"/>
<rect x="481" y="273" width="10" height="10" fill="#084d96"/>
<rect x="491" y="273" width="11" height="10" fill="#72b2d8"/>
<rect x="502" y="273" width="21" height="10" fill="#08316d"/>
<rect x="523" y="273" width="11" height="10" fill="#3383be"/>
<rect x="534" y="273" width="11" height="10" fill="#4090c5"/>
<rect x="545" y="273" width="10" height="10" fill="#6aaed6"/>
<rect x="555" y="273" width="11" height="10" fill="#c6dbef"/>
<rect x="566" y="273" width="11" height="10" fill="#60a7d2"/>
<rect x="577" y="273" width="10" height="10" fill="#a6cee4"/>
<rect x="587" y="273" width="11" height="10" fill="#caddf0"/>
<rect x="598" y="273" width="11" height="10" fill="#08316d"/>
<rect x="609" y="273" width="11" height="10" fill="#caddf0"/>
<rect x="620" y="273" width="10" height="10" fill="#a6cee4"/>
<rect x="630" y="273" width="10" height="10" fill="#cee0f2"/>
<rect x="395" y="283" width="11" height="11" fill="#b3d3e8"/>
<rect x="406" y="283" width="10" height="11" fill="#519ccc"/>
<rect x="416" y="283" width="11" height="11" fill="#d3e3f3"/>
<rect x="427" y="283" width="11" height="11" fill="#caddf0"/>
<rect x="438" y="283" width="11" height="11" fill="#94c4df"/>
<rect x="449" y="283" width="10" height="11" fill="#d7e6f5"/>
<rect x="459" y="283" width="11" height="11" fill="#85bcdc"/>
<rect x="470" y="283" width="11" height="11" fill="#d3e3f3"/>
<rect x="481" y="283" width="10" height="11" fill="#56a0ce"/>
<rect x="491" y="283" width="11" height="11" fill="#b9d6ea"/>
<rect x="502" y="283" width="11" height="11" fill="#3f8fc5"/>
<rect x="513" y="283" width="10" height="11" fill="#3c8cc3"/>
<rect x="523" y="283" width="11" height="11" fill="#8cc0dd"/>
<rect x="534" y="283" width="11" height="11" fill="#a0cbe2"/>
<rect x="545" y="283" width="10" height="11" fill="#add0e6"/>
<rect x="555" y="283" width="11" height="11" fill="#d7e6f5"/>
<rect x="566" y="283" width="11" height="11" fill="#94c4df"/>
<rect x="577" y="283" width="10" height="11" fill="#add0e6"/>
<rect x="587" y="283" width="11" height="11" fill="#e0ecf8"/>
<rect x="598" y="283" width="11" height="11" fill="#4090c5"/>
<rect x="609" y="283" width="11" height="11" fill="#caddf0"/>
<rect x="620" y="283" width="10" height="11" fill="#dfecf7"/>
<rect x="630" y="283" width="10" height="11" fill="#e1edf8"/>
<rect x="406" y="294" width="10" height="11" fill="#eef5fc"/>
<rect x="416" y="294" width="54" height="11" fill="#f5fafe"/>
<rect x="470" y="294" width="11" height="11" fill="#f3f8fe"/>
<rect x="481" y="294" width="21" height="11" fill="#eef5fc"/>
<rect x="502" y="294" width="11" height="11" fill="#f3f8fe"/>
<rect x="513" y="294" width="10" height="11" fill="#eef5fc"/>
<rect x="523" y="294" width="32" height="11" fill="#f3f8fe"/>
<rect x="555" y="294" width="22" height="11" fill="#eef5fc"/>
<rect x="577" y="294" width="10" height="11" fill="#f3f8fe"/>
<rect x="587" y="294" width="11" height="11" fill="#e6f0f9"/>
<rect x="598" y="294" width="11" height="11" fill="#f3f8fe"/>
<rect x="609" y="294" width="11" height="11" fill="#e6f0f9"/>
<rect x="620" y="294" width="10" height="11" fill="#d3e3f3"/>
<rect x="630" y="294" width="10" height="11" fill="#e0ecf8"/>
<rect x="416" y="305" width="22" height="11" fill="#bfd8ed"/>
<rect x="438" y="305" width="11" height="11" fill="#f3f8fe"/>
<rect x="449" y="305" width="10" height="11" fill="#e0ecf8"/>
<rect x="459" y="305" width="11" height="11" fill="#f3f8fe"/>
<rect x="470" y="305" width="11" height="11" fill="#e6f0f9"/>
<rect x="481" y="305" width="10" height="11" fill="#f3f8fe"/>
<rect x="491" y="305" width="11" height="11" fill="#eef5fc"/>
<rect x="502" y="305" width="32" height="11" fill="#f5fafe"/>
<rect x="534" y="305" width="21" height="11" fill="#f3f8fe"/>
<rect x="555" y="305" width="11" height="11" fill="#add0e6"/>
<rect x="566" y="305" width="11" height="11" fill="#a6cee4"/>
<rect x="577" y="305" width="10" height="11" fill="#eef5fc"/>
<rect x="587" y="305" width="11" height="11" fill="#e0ecf8"/>
<rect x="598" y="305" width="11" height="11" fill="#f3f8fe"/>
<rect x="609" y="305" width="11" height="11" fill="#e0ecf8"/>
<rect x="620" y="305" width="10" height="11" fill="#cee0f2"/>
<rect x="630" y="305" width="10" height="11" fill="#dce9f6"/>
<rect x="427" y="316" width="11" height="10" fill="#f5fafe"/>
<rect x="438" y="316" width="11" height="10" fill="#dce9f6"/>
<rect x="449" y="316" width="10" height="10" fill="#f3f8fe"/>
<rect x="459" y="316" width="11" height="10" fill="#e6f0f9"/>
<rect x="470" y="316" width="11" height="10" fill="#f3f8fe"/>
<rect x="481" y="316" width="21" height="10" fill="#e0ecf8"/>
<rect x="502" y="316" width="11" height="10" fill="#d3e3f3"/>
<rect x="513" y="316" width="10" height="10" fill="#b3d3e8"/>
<rect x="523" y="316" width="11" height="10" fill="#c6dbef"/>
<rect x="534" y="316" width="11" height="10" fill="#e6f0f9"/>
<rect x="545" y="316" width="10" height="10" fill="#f3f8fe"/>
<rect x="555" y="316" width="11" height="10" fill="#f5fafe"/>
<rect x="566" y="316" width="21" height="10" fill="#eef5fc"/>
<rect x="587" y="316" width="11" height="10" fill="#e6f0f9"/>
<rect x="598" y="316" width="11" height="10" fill="#eaf3fb"/>
<rect x="609" y="316" width="11" height="10" fill="#dae8f6"/>
<rect x="620" y="316" width="10" height="10" fill="#dce9f6"/>
<rect x="630" y="316" width="10" height="10" fill="#e0ecf8"/>
<rect x="438" y="326" width="11" height="11" fill="#dce9f6"/>
<rect x="449" y="326" width="10" height="11" fill="#f3f8fe"/>
<rect x="459" y="326" width="11" height="11" fill="#d7e6f5"/>
<rect x="470" y="326" width="11" height="11" fill="#f3f8fe"/>
<rect x="481" y="326" width="10" height="11" fill="#dce9f6"/>
<rect x="491" y="326" width="11" height="11" fill="#c6dbef"/>
<rect x="502" y="326" width="11" height="11" fill="#d3e3f3"/>
<rect x="513" y="326" width="10" height="11" fill="#add0e6"/>
<rect x="523" y="326" width="11" height="11" fill="#c6dbef"/>
<rect x="534" y="326" width="11" height="11" fill="#cee0f2"/>
<rect x="545" y="326" width="10" height="11" fill="#eaf3fb"/>
<rect x="555" y="326" width="11" height="11" fill="#f3f8fe"/>
<rect x="566" y="326" width="11" height="11" fill="#eef5fc"/>
<rect x="577" y="326" width="10" height="11" fill="#f3f8fe"/>
<rect x="587" y="326" width="11" height="11" fill="#d3e3f3"/>
<rect x="598" y="326" width="11" height="11" fill="#dce9f6"/>
<rect x="609" y="326" width="11" height="11" fill="#caddf0"/>
<rect x="620" y="326" width="10" height="11" fill="#d7e6f5"/>
<rect x="630" y="326" width="10" height="11" fill="#dce9f6"/>
<rect x="449" y="337" width="10" height="11" fill="#eaf3fb"/>
<rect x="459" y="337" width="11" height="11" fill="#f3f8fe"/>
<rect x="470" y="337" width="11" height="11" fill="#dce9f6"/>
<rect x="481" y="337" width="32" height="11" fill="#f5fafe"/>
<rect x="513" y="337" width="21" height="11" fill="#f3f8fe"/>
<rect x="534" y="337" width="11" height="11" fill="#f5fafe"/>
<rect x="545" y="337" width="10" height="11" fill="#f3f8fe"/>
<rect x="555" y="337" width="22" height="11" fill="#d7e6f5"/>
<rect x="577" y="337" width="10" height="11" fill="#eef5fc"/>
<rect x="587" y="337" width="11" height="11" fill="#e6f0f9"/>
<rect x="598" y="337" width="11" height="11" fill="#f3f8fe"/>
<rect x="609" y="337" width="11" height="11" fill="#e0ecf8"/>
<rect x="620" y="337" width="10" height="11" fill="#d3e3f3"/>
<rect x="630" y="337" width="10" height="11" fill="#e0ecf8"/>
<rect x="459" y="348" width="11" height="10" fill="#e0ecf8"/>
<rect x="470" y="348" width="11" height="10" fill="#f3f8fe"/>
<rect x="481" y="348" width="10" height="10" fill="#eaf3fb"/>
<rect x="491" y="348" width="11" height="10" fill="#cee0f2"/>
<rect x="502" y="348" width="11" height="10" fill="#eaf3fb"/>
<rect x="513" y="348" width="10" height="10" fill="#d7e6f5"/>
<rect x="523" y="348" width="11" height="10" fill="#e0ecf8"/>
<rect x="534" y="348" width="11" height="10" fill="#cee0f2"/>
<rect x="545" y="348" width="10" height="10" fill="#eaf3fb"/>
<rect x="555" y="348" width="11" height="10" fill="#e6f0f9"/>
<rect x="566" y="348" width="11" height="10" fill="#f3f8fe"/>
<rect x="577" y="348" width="10" height="10" fill="#eef5fc"/>
<rect x="587" y="348" width="11" height="10" fill="#f3f8fe"/>
<rect x="598" y="348" width="11" height="10" fill="#e5eff9"/>
<rect x="609" y="348" width="31" height="10" fill="#eaf3fb"/>
<rect x="470" y="358" width="11" height="11" fill="#caddf0"/>
<rect x="481" y="358" width="10" height="11" fill="#f5fafe"/>
<rect x="491" y="358" width="11" height="11" fill="#f3f8fe"/>
<rect x="502" y="358" width="53" height="11" fill="#f5fafe"/>
<rect x="555" y="358" width="11" height="11" fill="#e0ecf8"/>
<rect x="566" y="358" width="11" height="11" fill="#dce9f6"/>
<rect x="577" y="358" width="10" height="11" fill="#eaf3fb"/>
<rect x="587" y="358" width="11" height="11" fill="#d7e6f5"/>
<rect x="598" y="358" width="11" height="11" fill="#f3f8fe"/>
<rect x="609" y="358" width="11" height="11" fill="#d0e1f2"/>
<rect x="620" y="358" width="10" height="11" fill="#caddf0"/>
<rect x="630" y="358" width="10" height="11" fill="#d3e3f3"/>
<rect x="481" y="369" width="10" height="11" fill="#cee0f2"/>
<rect x="491" y="369" width="11" height="11" fill="#add0e6"/>
<rect x="502" y="369" width="21" height="11" fill="#e0ecf8"/>
<rect x="523" y="369" width="11" height="11" fill="#e6f0f9"/>
<rect x="534" y="369" width="11" height="11" fill="#add0e6"/>
<rect x="545" y="369" width="10" height="11" fill="#e0ecf8"/>
<rect x="555" y="369" width="11" height="11" fill="#e5eff9"/>
<rect x="566" y="369" width="11" height="11" fill="#ecf4fb"/>
<rect x="577" y="369" width="10" height="11" fill="#eef5fc"/>
<rect x="587" y="369" width="11" height="11" fill="#f3f8fe"/>
<rect x="598" y="369" width="11" height="11" fill="#caddf0"/>
<rect x="609" y="369" width="11" height="11" fill="#e5eff9"/>
<rect x="620" y="369" width="10" height="11" fill="#eef5fc"/>
<rect x="630" y="369" width="10" height="11" fill="#f3f8fe"/>
<rect x="491" y="380" width="11" height="10" fill="#eef5fc"/>
<rect x="502" y="380" width="32" height="10" fill="#f3f8fe"/>
<rect x="534" y="380" width="11" height="10" fill="#eef5fc"/>
<rect x="545" y="380" width="10" height="10" fill="#f3f8fe"/>
<rect x="555" y="380" width="11" height="10" fill="#cee0f2"/>
<rect x="566" y="380" width="11" height="10" fill="#caddf0"/>
<rect x="577" y="380" width="10" height="10" fill="#e6f0f9"/>
<rect x="587" y="380" width="11" height="10" fill="#cee0f2"/>
<rect x="598" y="380" width="11" height="10" fill="#f3f8fe"/>
<rect x="609" y="380" width="11" height="10" fill="#ccdff1"/>
<rect x="620" y="380" width="10" height="10" fill="#bed8ec"/>
<rect x="630" y="380" width="10" height="10" fill="#c6dbef"/>
<rect x="502" y="390" width="11" height="11" fill="#eef5fc"/>
<rect x="513" y="390" width="10" height="11" fill="#eaf3fb"/>
<rect x="523" y="390" width="11" height="11" fill="#eef5fc"/>
<rect x="534" y="390" width="21" height="11" fill="#f3f8fe"/>
<rect x="555" y="390" width="11" height="11" fill="#e0ecf8"/>
<rect x="566" y="390" width="11" height="11" fill="#b9d6ea"/>
<rect x="577" y="390" width="10" height="11" fill="#e6f0f9"/>
<rect x="587" y="390" width="11" height="11" fill="#c6dbef"/>
<rect x="598" y="390" width="11" height="11" fill="#eef5fc"/>
<rect x="609" y="390" width="11" height="11" fill="#cde0f1"/>
<rect x="620" y="390" width="10" height="11" fill="#d1e2f3"/>
<rect x="630" y="390" width="10" height="11" fill="#d3e3f3"/>
<rect x="513" y="401" width="21" height="11" fill="#f3f8fe"/>
<rect x="534" y="401" width="11" height="11" fill="#eef5fc"/>
<rect x="545" y="401" width="10" height="11" fill="#f3f8fe"/>
<rect x="555" y="401" width="11" height="11" fill="#b9d6ea"/>
<rect x="566" y="401" width="11" height="11" fill="#b3d3e8"/>
<rect x="577" y="401" width="10" height="11" fill="#e6f0f9"/>
<rect x="587" y="401" width="11" height="11" fill="#d3e3f3"/>
<rect x="598" y="401" width="11" height="11" fill="#eef5fc"/>
<rect x="609" y="401" width="11" height="11" fill="#d6e6f4"/>
<rect x="620" y="401" width="10" height="11" fill="#caddf0"/>
<rect x="630" y="401" width="10" height="11" fill="#d5e5f4"/>
<rect x="523" y="412" width="11" height="10" fill="#f3f8fe"/>
<rect x="534" y="412" width="21" height="10" fill="#eef5fc"/>
<rect x="555" y="412" width="11" height="10" fill="#92c4de"/>
<rect x="566" y="412" width="11" height="10" fill="#6fb0d7"/>
<rect x="577" y="412" width="10" height="10" fill="#e6f0f9"/>
<rect x="587" y="412" width="11" height="10" fill="#d3e3f3"/>
<rect x="598" y="412" width="11" height="10" fill="#eaf3fb"/>
<rect x="609" y="412" width="11" height="10" fill="#dae8f6"/>
<rect x="620" y="412" width="10" height="10" fill="#c6dbef"/>
<rect x="630" y="412" width="10" height="10" fill="#d6e6f4"/>
<rect x="534" y="422" width="21" height="11" fill="#eef5fc"/>
<rect x="555" y="422" width="11" height="11" fill="#add0e6"/>
<rect x="566" y="422" width="11" height="11" fill="#a6cee4"/>
<rect x="577" y="422" width="10" height="11" fill="#e9f2fa"/>
<rect x="587" y="422" width="11" height="11" fill="#d7e6f5"/>
<rect x="598" y="422" width="11" height="11" fill="#eef5fc"/>
<rect x="609" y="422" width="11" height="11" fill="#ddeaf7"/>
<rect x="620" y="422" width="10" height="11" fill="#d1e2f3"/>
<rect x="630" y="422" width="10" height="11" fill="#d8e7f5"/>
<rect x="545" y="433" width="10" height="11" fill="#f3f8fe"/>
<rect x="555" y="433" width="11" height="11" fill="#e6f0f9"/>
<rect x="566" y="433" width="11" height="11" fill="#bfd8ed"/>
<rect x="577" y="433" width="10" height="11" fill="#e7f0fa"/>
<rect x="587" y="433" width="11" height="11" fill="#b5d4e9"/>
<rect x="598" y="433" width="11" height="11" fill="#eaf3fb"/>
<rect x="609" y="433" width="11" height="11" fill="#b2d2e8"/>
<rect x="620" y="433" width="10" height="11" fill="#b3d3e8"/>
<rect x="630" y="433" width="10" height="11" fill="#b9d6ea"/>
<rect x="555" y="444" width="11" height="10" fill="#e9f2fa"/>
<rect x="566" y="444" width="11" height="10" fill="#e0ecf8"/>
<rect x="577" y="444" width="10" height="10" fill="#eef5fc"/>
<rect x="587" y="444" width="11" height="10" fill="#dce9f6"/>
<rect x="598" y="444" width="11" height="10" fill="#eef5fc"/>
<rect x="609" y="444" width="11" height="10" fill="#dce9f6"/>
<rect x="620" y="444" width="10" height="10" fill="#cee0f2"/>
<rect x="630" y="444" width="10" height="10" fill="#dce9f6"/>
<rect x="566" y="454" width="32" height="11" fill="#e5eff9"/>
<rect x="598" y="454" width="11" height="11" fill="#d3e3f3"/>
<rect x="609" y="454" width="11" height="11" fill="#caddf0"/>
<rect x="620" y="454" width="10" height="11" fill="#dce9f6"/>
<rect x="630" y="454" width="10" height="11" fill="#e0ecf8"/>
<rect x="577" y="465" width="10" height="11" fill="#eef5fc"/>
<rect x="587" y="465" width="11" height="11" fill="#add0e6"/>
<rect x="598" y="465" width="11" height="11" fill="#d7e6f5"/>
<rect x="609" y="465" width="11" height="11" fill="#7fb9da"/>
<rect x="620" y="465" width="10" height="11" fill="#a0cbe2"/>
<rect x="630" y="465" width="10" height="11" fill="#add0e6"/>
<rect x="587" y="476" width="11" height="11" fill="#bfd8ed"/>
<rect x="598" y="476" width="11" height="11" fill="#e6f0f9"/>
<rect x="609" y="476" width="11" height="11" fill="#caddf0"/>
<rect x="620" y="476" width="10" height="11" fill="#a6cee4"/>
<rect x="630" y="476" width="10" height="11" fill="#bfd8ed"/>
<rect x="598" y="487" width="11" height="10" fill="#c6dbef"/>
<rect x="609" y="487" width="21" height="10" fill="#eaf3fb"/>
<rect x="630" y="487" width="10" height="10" fill="#eef5fc"/>
<rect x="609" y="497" width="11" height="11" fill="#b3d3e8"/>
<rect x="620" y="497" width="10" height="11" fill="#a0cbe2"/>
<rect x="630" y="497" width="10" height="11" fill="#b3d3e8"/>
<rect x="620" y="508" width="10" height="11" fill="#eaf3fb"/>
<rect x="630" y="508" width="10" height="11" fill="#f3f8fe"/>
<rect x="630" y="519" width="10" height="10" fill="#f3f8fe"/>
</g>
<path d="M165.50 60.4 v6.3 M165.50 540.3 v-6.3 M160.6 65.50 h6.2 M640.4 65.50 h-6 M176.50 60.4 v6.3 M176.50 540.3 v-6.3 M160.6 76.50 h6.2 M640.4 76.50 h-6 M187.50 60.4 v6.3 M187.50 540.3 v-6.3 M160.6 87.50 h6.2 M640.4 87.50 h-6 M197.50 60.4 v6.3 M197.50 540.3 v-6.3 M160.6 97.50 h6.2 M640.4 97.50 h-6 M208.50 60.4 v6.3 M208.50 540.3 v-6.3 M160.6 108.50 h6.2 M640.4 108.50 h-6 M219.50 60.4 v6.3 M219.50 540.3 v-6.3 M160.6 119.50 h6.2 M640.4 119.50 h-6 M229.50 60.4 v6.3 M229.50 540.3 v-6.3 M160.6 129.50 h6.2 M640.4 129.50 h-6 M240.50 60.4 v6.3 M240.50 540.3 v-6.3 M160.6 140.50 h6.2 M640.4 140.50 h-6 M251.50 60.4 v6.3 M251.50 540.3 v-6.3 M160.6 151.50 h6.2 M640.4 151.50 h-6 M261.50 60.4 v6.3 M261.50 540.3 v-6.3 M160.6 161.50 h6.2 M640.4 161.50 h-6 M272.50 60.4 v6.3 M272.50 540.3 v-6.3 M160.6 172.50 h6.2 M640.4 172.50 h-6 M283.50 60.4 v6.3 M283.50 540.3 v-6.3 M160.6 183.50 h6.2 M640.4 183.50 h-6 M293.50 60.4 v6.3 M293.50 540.3 v-6.3 M160.6 193.50 h6.2 M640.4 193.50 h-6 M304.50 60.4 v6.3 M304.50 540.3 v-6.3 M160.6 204.50 h6.2 M640.4 204.50 h-6 M315.50 60.4 v6.3 M315.50 540.3 v-6.3 M160.6 215.50 h6.2 M640.4 215.50 h-6 M325.50 60.4 v6.3 M325.50 540.3 v-6.3 M160.6 225.50 h6.2 M640.4 225.50 h-6 M336.50 60.4 v6.3 M336.50 540.3 v-6.3 M160.6 236.50 h6.2 M640.4 236.50 h-6 M347.50 60.4 v6.3 M347.50 540.3 v-6.3 M160.6 247.50 h6.2 M640.4 247.50 h-6 M357.50 60.4 v6.3 M357.50 540.3 v-6.3 M160.6 257.50 h6.2 M640.4 257.50 h-6 M368.50 60.4 v6.3 M368.50 540.3 v-6.3 M160.6 268.50 h6.2 M640.4 268.50 h-6 M379.50 60.4 v6.3 M379.50 540.3 v-6.3 M160.6 279.50 h6.2 M640.4 279.50 h-6 M389.50 60.4 v6.3 M389.50 540.3 v-6.3 M160.6 289.50 h6.2 M640.4 289.50 h-6 M400.50 60.4 v6.3 M400.50 540.3 v-6.3 M160.6 300.50 h6.2 M640.4 300.50 h-6 M411.50 60.4 v6.3 M411.50 540.3 v-6.3 M160.6 311.50 h6.2 M640.4 311.50 h-6 M421.50 60.4 v6.3 M421.50 540.3 v-6.3 M160.6 321.50 h6.2 M640.4 321.50 h-6 M432.50 60.4 v6.3 M432.50 540.3 v-6.3 M160.6 332.50 h6.2 M640.4 332.50 h-6 M443.50 60.4 v6.3 M443.50 540.3 v-6.3 M160.6 343.50 h6.2 M640.4 343.50 h-6 M453.50 60.4 v6.3 M453.50 540.3 v-6.3 M160.6 353.50 h6.2 M640.4 353.50 h-6 M464.50 60.4 v6.3 M464.50 540.3 v-6.3 M160.6 364.50 h6.2 M640.4 364.50 h-6 M475.50 60.4 v6.3 M475.50 540.3 v-6.3 M160.6 375.50 h6.2 M640.4 375.50 h-6 M485.50 60.4 v6.3 M485.50 540.3 v-6.3 M160.6 385.50 h6.2 M640.4 385.50 h-6 M496.50 60.4 v6.3 M496.50 540.3 v-6.3 M160.6 396.50 h6.2 M640.4 396.50 h-6 M507.50 60.4 v6.3 M507.50 540.3 v-6.3 M160.6 407.50 h6.2 M640.4 407.50 h-6 M517.50 60.4 v6.3 M517.50 540.3 v-6.3 M160.6 417.50 h6.2 M640.4 417.50 h-6 M528.50 60.4 v6.3 M528.50 540.3 v-6.3 M160.6 428.50 h6.2 M640.4 428.50 h-6 M539.50 60.4 v6.3 M539.50 540.3 v-6.3 M160.6 439.50 h6.2 M640.4 439.50 h-6 M549.50 60.4 v6.3 M549.50 540.3 v-6.3 M160.6 449.50 h6.2 M640.4 449.50 h-6 M560.50 60.4 v6.3 M560.50 540.3 v-6.3 M160.6 460.50 h6.2 M640.4 460.50 h-6 M571.50 60.4 v6.3 M571.50 540.3 v-6.3 M160.6 471.50 h6.2 M640.4 471.50 h-6 M581.50 60.4 v6.3 M581.50 540.3 v-6.3 M160.6 481.50 h6.2 M640.4 481.50 h-6 M592.50 60.4 v6.3 M592.50 540.3 v-6.3 M160.6 492.50 h6.2 M640.4 492.50 h-6 M603.50 60.4 v6.3 M603.50 540.3 v-6.3 M160.6 503.50 h6.2 M640.4 503.50 h-6 M613.50 60.4 v6.3 M613.50 540.3 v-6.3 M160.6 513.50 h6.2 M640.4 513.50 h-6 M624.50 60.4 v6.3 M624.50 540.3 v-6.3 M160.6 524.50 h6.2 M640.4 524.50 h-6 M635.50 60.4 v6.3 M635.50 540.3 v-6.3 M160.6 535.50 h6.2 M640.4 535.50 h-6" stroke="#000" stroke-opacity="0.75" stroke-width="1" fill="none"/>
<rect x="160.6" y="60.4" width="479.8" height="479.9" fill="none" stroke="#000" stroke-width="1.4"/>
<text x="165.63" y="54.00" text-anchor="middle" letter-spacing="-0.3">C1'</text>
<text x="155.90" y="71.23" text-anchor="end" letter-spacing="-0.3">C1'</text>
<text x="218.97" y="54.00" text-anchor="middle" letter-spacing="-0.3">C4'</text>
<text x="155.90" y="124.57" text-anchor="end" letter-spacing="-0.3">C4'</text>
<text x="272.30" y="54.00" text-anchor="middle" letter-spacing="-0.3">N1</text>
<text x="155.90" y="177.90" text-anchor="end" letter-spacing="-0.3">N1</text>
<text x="325.63" y="54.00" text-anchor="middle" letter-spacing="-0.3">O2'</text>
<text x="155.90" y="231.23" text-anchor="end" letter-spacing="-0.3">O2'</text>
<text x="378.97" y="54.00" text-anchor="middle" letter-spacing="-0.3">OP2</text>
<text x="155.90" y="284.57" text-anchor="end" letter-spacing="-0.3">OP2</text>
<text x="432.30" y="54.00" text-anchor="middle" letter-spacing="-0.3">C3'</text>
<text x="155.90" y="337.90" text-anchor="end" letter-spacing="-0.3">C3'</text>
<text x="485.63" y="54.00" text-anchor="middle" letter-spacing="-0.3">C6</text>
<text x="155.90" y="391.23" text-anchor="end" letter-spacing="-0.3">C6</text>
<text x="538.97" y="54.00" text-anchor="middle" letter-spacing="-0.3">N7</text>
<text x="155.90" y="444.57" text-anchor="end" letter-spacing="-0.3">N7</text>
<text x="592.30" y="54.00" text-anchor="middle" letter-spacing="-0.3">O5'</text>
<text x="155.90" y="497.90" text-anchor="end" letter-spacing="-0.3">O5'</text>
<defs><linearGradient id="cb" x1="0" y1="0" x2="0" y2="1"><stop offset="0.0000" stop-color="#08306b"/><stop offset="0.0156" stop-color="#083370"/><stop offset="0.0312" stop-color="#083776"/><stop offset="0.0469" stop-color="#083b7c"/><stop offset="0.0625" stop-color="#084184"/><stop offset="0.0781" stop-color="#084488"/><stop offset="0.0938" stop-color="#08488e"/><stop offset="0.1094" stop-color="#084c95"/><stop offset="0.1250" stop-color="#08509b"/><stop offset="0.1406" stop-color="#0a549e"/><stop offset="0.1562" stop-color="#0e58a2"/><stop offset="0.1719" stop-color="#115ca5"/><stop offset="0.1875" stop-color="#1460a8"/><stop offset="0.2031" stop-color="#1764ab"/><stop offset="0.2188" stop-color="#1a68ae"/><stop offset="0.2344" stop-color="#1d6cb1"/><stop offset="0.2500" stop-color="#2070b4"/><stop offset="0.2656" stop-color="#2474b7"/><stop offset="0.2812" stop-color="#2979b9"/><stop offset="0.2969" stop-color="#2d7dbb"/><stop offset="0.3125" stop-color="#3181bd"/><stop offset="0.3281" stop-color="#3585bf"/><stop offset="0.3438" stop-color="#3989c1"/><stop offset="0.3594" stop-color="#3d8dc4"/><stop offset="0.3750" stop-color="#4191c6"/><stop offset="0.3906" stop-color="#4695c8"/><stop offset="0.4062" stop-color="#4b98ca"/><stop offset="0.4219" stop-color="#519ccc"/><stop offset="0.4375" stop-color="#56a0ce"/><stop offset="0.4531" stop-color="#5ba3d0"/><stop offset="0.4688" stop-color="#60a7d2"/><stop offset="0.4844" stop-color="#65aad4"/><stop offset="0.5000" stop-color="#6aaed6"/><stop offset="0.5156" stop-color="#71b1d7"/><stop offset="0.5312" stop-color="#79b5d9"/><stop offset="0.5469" stop-color="#7db8da"/><stop offset="0.5625" stop-color="#84bcdb"/><stop offset="0.5781" stop-color="#8abfdd"/><stop offset="0.5938" stop-color="#91c3de"/><stop offset="0.6094" stop-color="#97c6df"/><stop offset="0.6250" stop-color="#9dcae1"/><stop offset="0.6406" stop-color="#a3cce3"/><stop offset="0.6562" stop-color="#a8cee4"/><stop offset="0.6719" stop-color="#add0e6"/><stop offset="0.6875" stop-color="#b2d2e8"/><stop offset="0.7031" stop-color="#b7d4ea"/><stop offset="0.7188" stop-color="#bcd7eb"/><stop offset="0.7344" stop-color="#c1d9ed"/><stop offset="0.7500" stop-color="#c6dbef"/><stop offset="0.7656" stop-color="#caddf0"/><stop offset="0.7812" stop-color="#ccdff1"/><stop offset="0.7969" stop-color="#cfe1f2"/><stop offset="0.8125" stop-color="#d2e3f3"/><stop offset="0.8281" stop-color="#d5e5f4"/><stop offset="0.8438" stop-color="#d8e7f5"/><stop offset="0.8594" stop-color="#dbe9f6"/><stop offset="0.8750" stop-color="#deebf7"/><stop offset="0.8906" stop-color="#e1edf8"/><stop offset="0.9062" stop-color="#e4eff9"/><stop offset="0.9219" stop-color="#e7f1fa"/><stop offset="0.9375" stop-color="#eaf3fb"/><stop offset="0.9531" stop-color="#eef5fc"/><stop offset="0.9688" stop-color="#f1f7fd"/><stop offset="0.9844" stop-color="#f4f9fe"/><stop offset="1.0000" stop-color="#f7fbff"/></linearGradient></defs>
<rect x="680.4" y="60.4" width="16.1" height="480" fill="url(#cb)" stroke="#000" stroke-width="1.39"/>
<text x="701.00" y="546.30" letter-spacing="-0.35">0.00</text>
<text x="701.00" y="493.19" letter-spacing="-0.35">0.06</text>
<text x="701.00" y="440.09" letter-spacing="-0.35">0.12</text>
<text x="701.00" y="386.98" letter-spacing="-0.35">0.18</text>
<text x="701.00" y="333.87" letter-spacing="-0.35">0.24</text>
<text x="701.00" y="280.76" letter-spacing="-0.35">0.30</text>
<text x="701.00" y="227.66" letter-spacing="-0.35">0.36</text>
<text x="701.00" y="174.55" letter-spacing="-0.35">0.42</text>
<text x="701.00" y="121.44" letter-spacing="-0.35">0.48</text>
<text x="701.00" y="68.34" letter-spacing="-0.35">0.54</text>
<path d="M696.5 487.50 h-6 M696.5 434.50 h-6 M696.5 381.50 h-6 M696.5 328.50 h-6 M696.5 274.50 h-6 M696.5 221.50 h-6 M696.5 168.50 h-6 M696.5 115.50 h-6 M696.5 62.50 h-6" stroke="#000" stroke-opacity="0.75" stroke-width="1" fill="none"/>
</svg></body></html>
